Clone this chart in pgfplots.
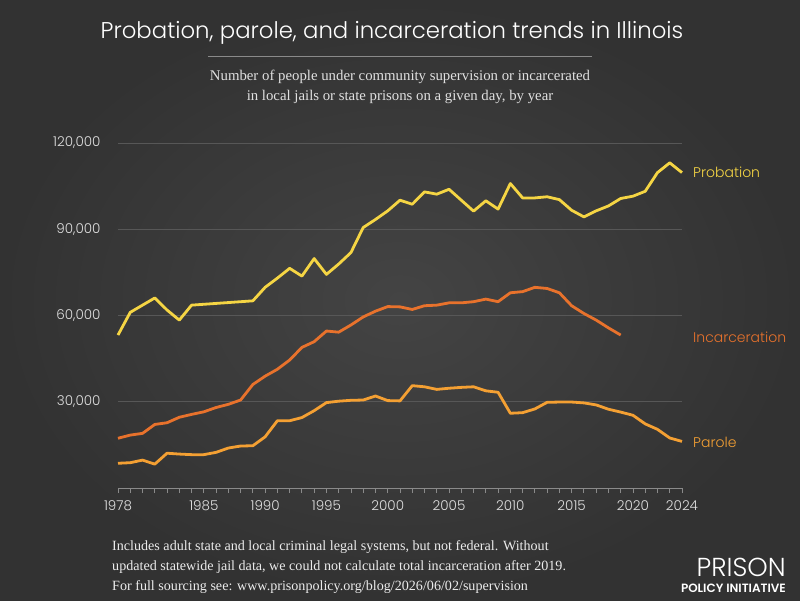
\documentclass[border=0pt]{standalone}
\usepackage{fontspec}
\setmainfont{Liberation Serif}
\newfontfamily\futura{Poppins Light}
\usepackage{pgfplots}
\pgfplotsset{compat=1.18}
\usepackage{pgfplotstable}

\definecolor{probcol}{HTML}{F5D544}
\definecolor{inccol}{HTML}{E8722C}
\definecolor{parcol}{HTML}{F4A033}
\definecolor{gridcol}{HTML}{575757}
\definecolor{axiscol}{HTML}{8A8A8A}
\definecolor{bgin}{HTML}{444444}
\definecolor{bgout}{HTML}{323232}

\pgfplotstableread{
year value
1978 53200
1979 61100
1980 63600
1981 66100
1982 61900
1983 58400
1984 63600
1985 63900
1986 64200
1987 64500
1988 64800
1989 65100
1990 69800
1991 73000
1992 76400
1993 73700
1994 79800
1995 74300
1996 77900
1997 81900
1998 90600
1999 93400
2000 96400
2001 100100
2002 98700
2003 103000
2004 102200
2005 103900
2006 100100
2007 96300
2008 99900
2009 97000
2010 105900
2011 100900
2012 100900
2013 101300
2014 100300
2015 96600
2016 94300
2017 96400
2018 98100
2019 100700
2020 101500
2021 103200
2022 109700
2023 113100
2024 109700
}\probation

\pgfplotstableread{
year value
1978 17300
1979 18400
1980 19000
1981 22100
1982 22700
1983 24600
1984 25600
1985 26500
1986 28000
1987 29100
1988 30600
1989 36000
1990 38900
1991 41300
1992 44500
1993 48900
1994 50900
1995 54600
1996 54200
1997 56700
1998 59500
1999 61500
2000 63100
2001 63000
2002 62100
2003 63400
2004 63600
2005 64400
2006 64400
2007 64800
2008 65700
2009 64800
2010 67900
2011 68300
2012 69800
2013 69400
2014 67900
2015 63400
2016 60700
2017 58400
2018 55700
2019 53200
}\incarceration

\pgfplotstableread{
year value
1978 8600
1979 8800
1980 9700
1981 8300
1982 12100
1983 11800
1984 11600
1985 11600
1986 12400
1987 13900
1988 14600
1989 14700
1990 17800
1991 23400
1992 23400
1993 24500
1994 26900
1995 29700
1996 30200
1997 30500
1998 30600
1999 32000
2000 30400
2001 30300
2002 35600
2003 35200
2004 34300
2005 34700
2006 35000
2007 35200
2008 33800
2009 33300
2010 26000
2011 26200
2012 27500
2013 29800
2014 29900
2015 29900
2016 29600
2017 28900
2018 27400
2019 26400
2020 25300
2021 22300
2022 20400
2023 17400
2024 16200
}\parole

\begin{document}
\begin{tikzpicture}
  % dark backdrop, slightly lighter towards the middle
  \shade[inner color=bgin, outer color=bgout] (0pt,0pt) rectangle (800pt,600pt);

  % heading
  \node[text=white, font=\futura\fontsize{22.8}{28}\selectfont] at (392pt,567pt) {Probation, parole, and incarceration trends in Illinois};
  \draw[color=axiscol, line width=1pt] (208pt,543pt) -- (592pt,543pt);
  \node[text=white!88!black, font=\fontsize{14.8}{19.5}\selectfont, align=center] at (400pt,513pt)
    {Number of people under community supervision or incarcerated\\in local jails or state prisons on a given day, by year};

  \begin{axis}[
    at={(118pt,112pt)}, anchor=south west,
    scale only axis, width=564pt, height=345pt,
    xmin=1978, xmax=2024, ymin=0, ymax=120000,
    axis x line*=bottom, axis y line*=left,
    x axis line style={color=axiscol, line width=0.8pt},
    y axis line style={draw=none},
    xtick={1978,1985,1990,1995,2000,2005,2010,2015,2020,2024},
    xticklabels={1978,1985,1990,1995,2000,2005,2010,2015,2020,2024},
    minor xtick={1978,...,2024},
    tick align=outside,
    major tick length=5pt, minor tick length=5pt,
    xtick style={color=axiscol, line width=0.8pt},
    minor tick style={color=axiscol, line width=0.8pt},
    ytick={30000,60000,90000,120000},
    yticklabels={{30,000},{60,000},{90,000},{120,000}},
    ytick style={draw=none},
    ymajorgrids, major grid style={color=gridcol, line width=0.9pt},
    scaled x ticks=false, scaled y ticks=false,
    xticklabel style={yshift=-4pt},
    yticklabel style={anchor=east, xshift=-9pt},
    ticklabel style={font=\futura\fontsize{13.5}{15}\selectfont, text=white!88!black},
    clip=false,
    line join=round,
  ]
    \addplot[probcol, line width=2.8pt] table[x=year, y=value] {\probation};
    \addplot[inccol, line width=2.8pt] table[x=year, y=value] {\incarceration};
    \addplot[parcol, line width=2.8pt] table[x=year, y=value] {\parole};
  \end{axis}

  % series names beside the line ends
  \node[anchor=west, inner sep=0, text=probcol, font=\futura\fontsize{14}{17}\selectfont] at (693pt,428pt) {Probation};
  \node[anchor=west, inner sep=0, text=inccol, font=\futura\fontsize{14}{17}\selectfont] at (693pt,263pt) {Incarceration};
  \node[anchor=west, inner sep=0, text=parcol, font=\futura\fontsize{14}{17}\selectfont] at (693pt,158pt) {Parole};

  % footnote
  \node[anchor=north west, inner sep=0, text=white!92!black, font=\fontsize{14.1}{20}\selectfont, align=left] at (112pt,60pt)
    {Includes adult state and local criminal legal systems, but not federal. Without\\
     updated statewide jail data, we could not calculate total incarceration after 2019.\\
     For full sourcing see: www.prisonpolicy.org/blog/2026/06/02/supervision};

  % organisation mark
  \node[anchor=south east, inner sep=0, text=white, font=\futura\fontsize{26}{28}\selectfont] at (786pt,23pt) {PRISON};
  \node[anchor=south east, inner sep=0, text=white, font=\futura\bfseries\fontsize{12}{14}\selectfont] at (786pt,7pt) {POLICY INITIATIVE};
\end{tikzpicture}
\end{document}
